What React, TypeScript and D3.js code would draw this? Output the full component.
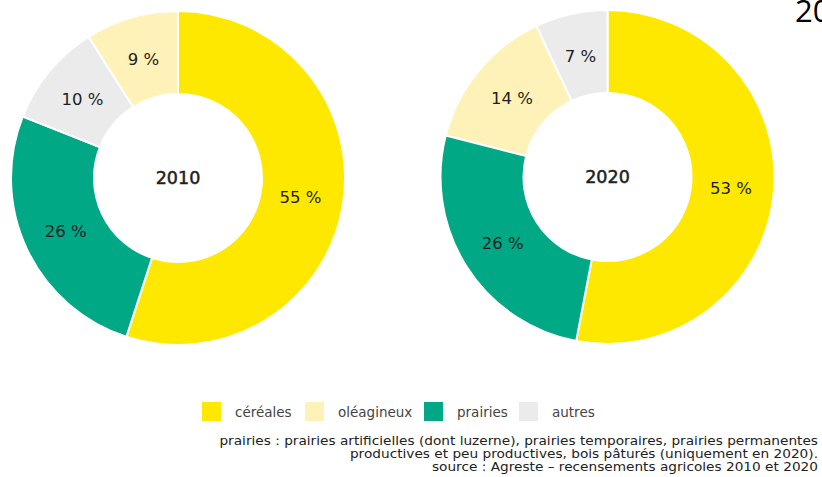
import React, { useRef, useEffect } from 'react'
import * as d3 from 'd3'

// categories and shares (%) per year
const categories = ['céréales', 'oléagineux', 'prairies', 'autres']
const colors = ['#ffe800', '#fff2b8', '#00a886', '#ebebeb']
const years = ['2010', '2020']
const values2010 = [55, 9, 26, 10]
const values2020 = [53, 14, 26, 7]
const notes = [
  'prairies : prairies artificielles (dont luzerne), prairies temporaires, prairies permanentes',
  'productives et peu productives, bois pâturés (uniquement en 2020).',
  'source : Agreste – recensements agricoles 2010 et 2020',
]

const App: React.FC = () => {
  const svgRef = useRef<SVGSVGElement | null>(null)

  useEffect(() => {
    const svg = d3.select(svgRef.current)
    svg.selectAll('*').remove()

    const width = 822
    const height = 477
    svg.attr('width', width).attr('height', height)

    const outer = 167
    const inner = 84
    const centers = [
      { x: 178, y: 178 },
      { x: 607.5, y: 177 },
    ]
    const color = d3.scaleOrdinal<string, string>().domain(categories).range(colors)

    // pie sorted by value, largest first, starting at 12 o'clock
    const pie = d3
      .pie<{ cat: string; v: number }>()
      .value((d) => d.v)
      .sort((a, b) => b.v - a.v)
    const arc = d3.arc<d3.PieArcDatum<{ cat: string; v: number }>>().innerRadius(inner).outerRadius(outer)
    const labelArc = d3
      .arc<d3.PieArcDatum<{ cat: string; v: number }>>()
      .innerRadius(124)
      .outerRadius(124)

    const series = [values2010, values2020]
    series.forEach((vals, i) => {
      const data = categories.map((cat, j) => ({ cat, v: vals[j] }))
      const g = svg.append('g').attr('transform', `translate(${centers[i].x},${centers[i].y})`)
      const arcs = pie(data)

      g.selectAll('path')
        .data(arcs)
        .enter()
        .append('path')
        .attr('d', arc)
        .attr('fill', (d) => color(d.data.cat))
        .attr('stroke', '#fff')
        .attr('stroke-width', 2)

      g.selectAll('text.pct')
        .data(arcs)
        .enter()
        .append('text')
        .attr('class', 'pct')
        .attr('transform', (d) => `translate(${labelArc.centroid(d)})`)
        .attr('text-anchor', 'middle')
        .attr('dy', '0.35em')
        .attr('font-family', 'DejaVu Sans, sans-serif')
        .attr('font-size', 16.5)
        .attr('fill', '#1e1e1e')
        .text((d) => `${d.data.v} %`)

      g.append('text')
        .attr('text-anchor', 'middle')
        .attr('dy', '0.35em')
        .attr('font-family', 'DejaVu Sans, sans-serif')
        .attr('font-size', 17.5)
        .attr('fill', '#1e1e1e')
        .attr('stroke', '#1e1e1e')
        .attr('stroke-width', 0.5)
        .text(years[i])
    })

    // cut-off title at top right
    svg
      .append('text')
      .attr('x', 795)
      .attr('y', 22)
      .attr('font-family', 'Open Sans, sans-serif')
      .attr('font-size', 31)
      .attr('fill', '#000')
      .text('2020')

    // legend
    const legendX = d3.scaleOrdinal<string, number>().domain(categories).range([202, 305, 424, 519])
    const legend = svg
      .append('g')
      .selectAll('g')
      .data(categories)
      .enter()
      .append('g')
      .attr('transform', (d) => `translate(${legendX(d)},402)`)
    legend
      .append('rect')
      .attr('width', 19)
      .attr('height', 19)
      .attr('fill', (d) => color(d))
    legend
      .append('text')
      .attr('x', 33)
      .attr('y', 15)
      .attr('font-family', 'DejaVu Sans, sans-serif')
      .attr('font-size', 13.5)
      .attr('fill', '#444')
      .text((d) => d)

    // notes, right aligned, slightly widened like the original
    svg
      .append('g')
      .selectAll('text')
      .data(notes)
      .enter()
      .append('text')
      .attr('transform', (_, i) => `translate(818,${445 + i * 13}) scale(1.14,1)`)
      .attr('text-anchor', 'end')
      .attr('font-family', 'DejaVu Sans, sans-serif')
      .attr('font-size', 12)
      .attr('fill', '#222')
      .text((d) => d)
  }, [])

  return <svg ref={svgRef} style={{ position: 'absolute', left: 0, top: 0, background: '#fff' }}></svg>
}

export default App
